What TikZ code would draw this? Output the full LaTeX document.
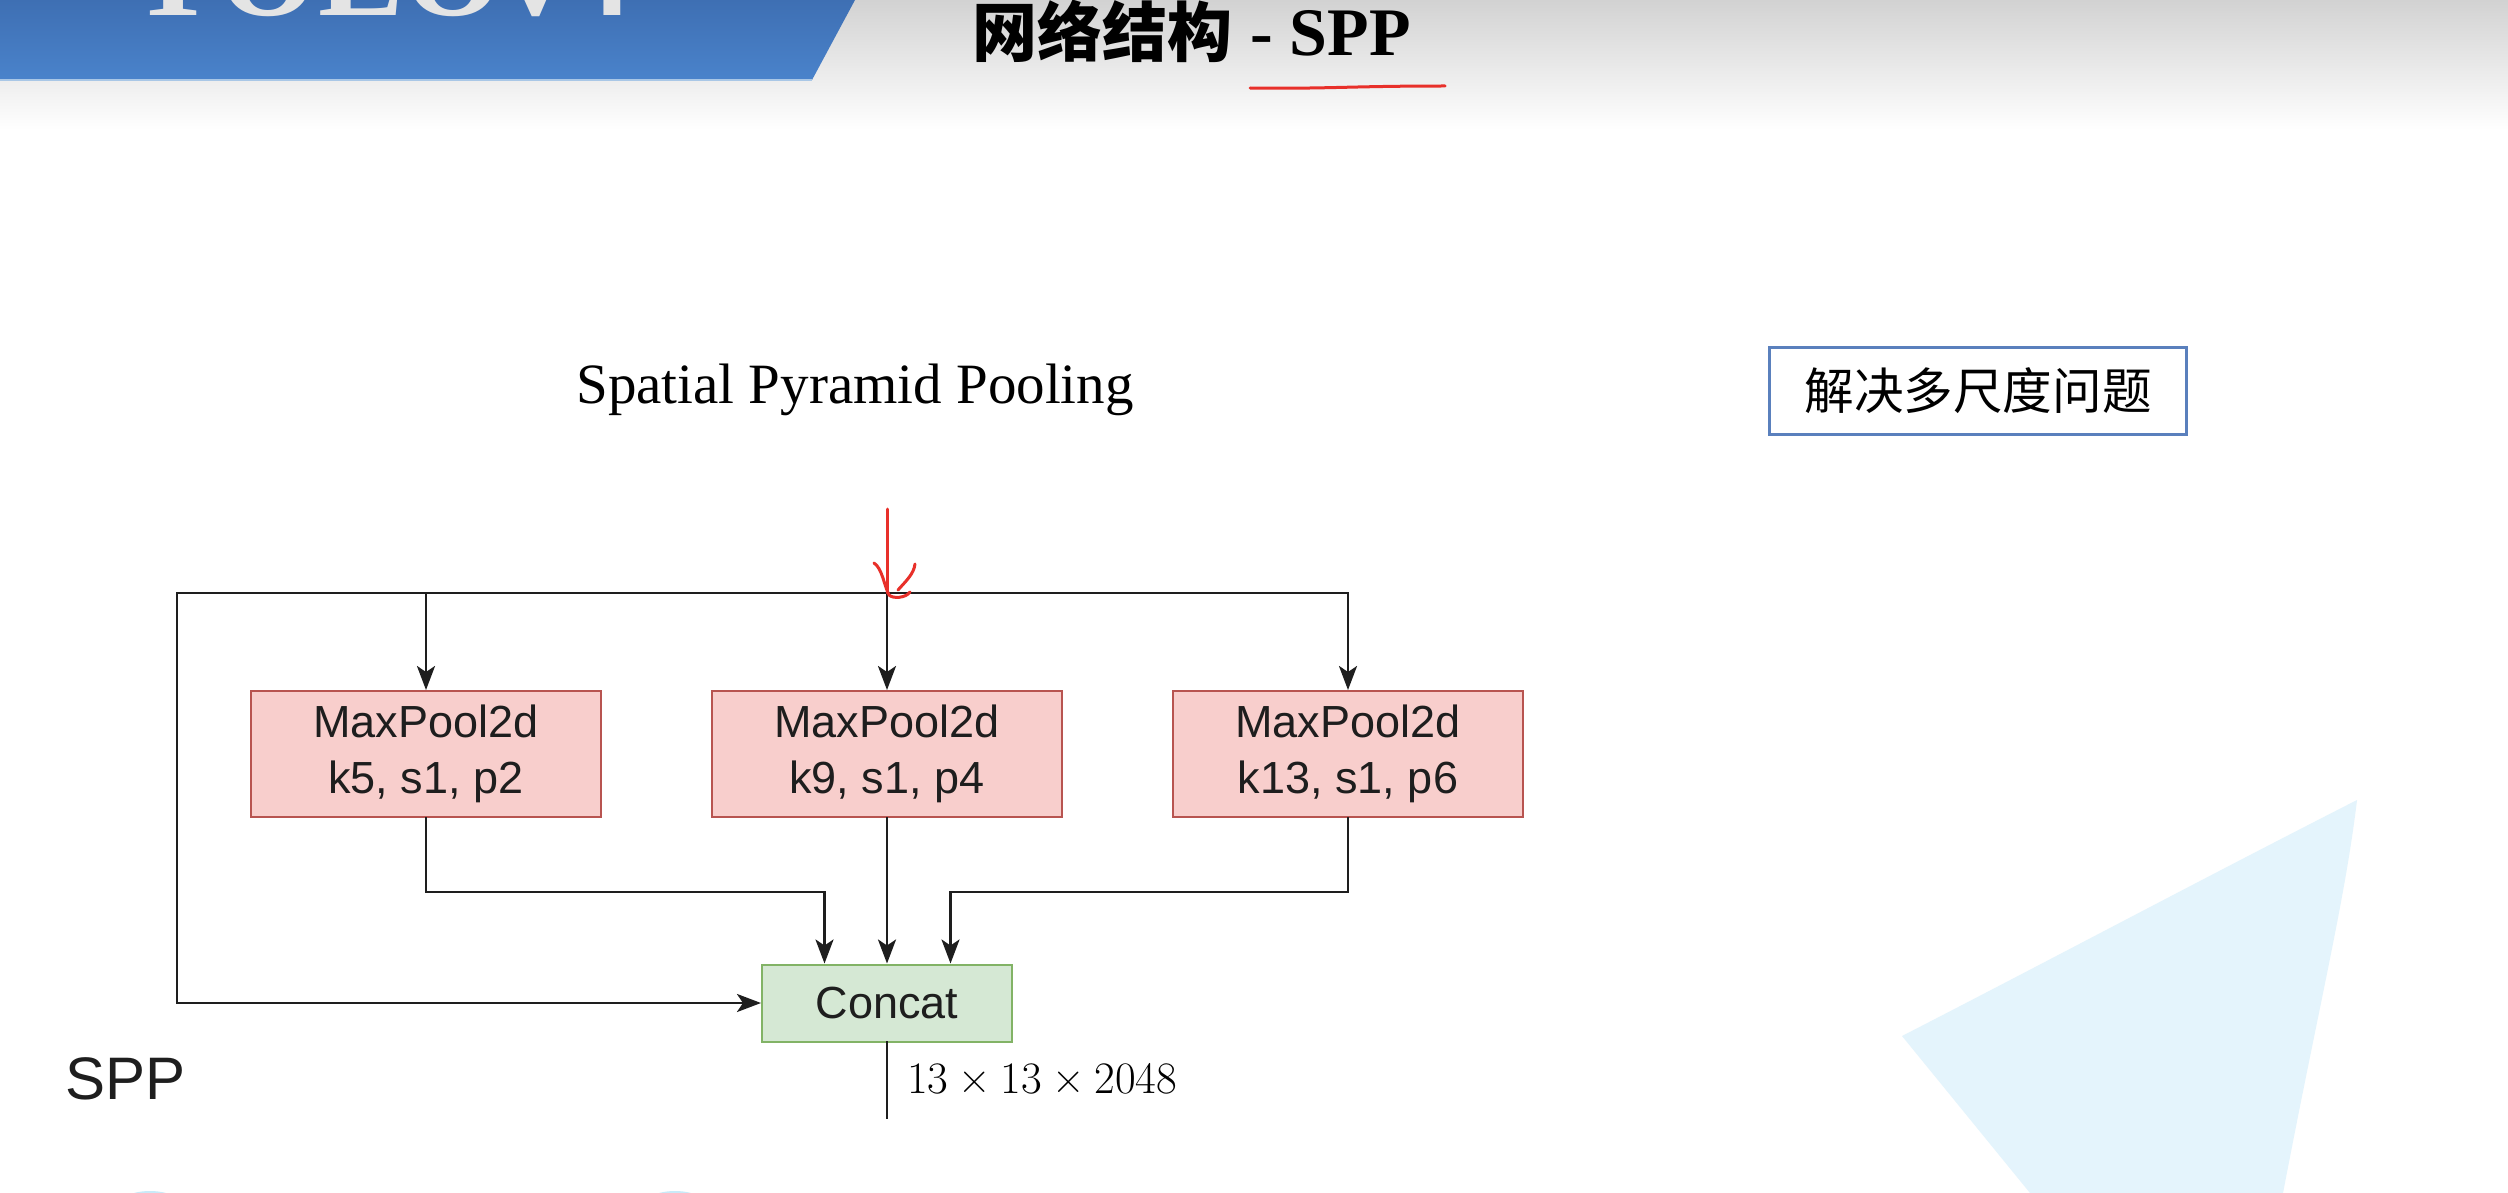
\documentclass[tikz,border=0pt]{standalone}
\usepackage{fontspec}
\setmainfont{Liberation Serif}
\newfontfamily\arialfont{Liberation Sans}
\newfontfamily\cjk{Noto Sans CJK SC}
\newfontfamily\lmfont{Latin Modern Roman}
\usetikzlibrary{arrows.meta,calc}

\definecolor{hdrgray}{HTML}{D2D2D2}
\definecolor{bannertop}{HTML}{3E6FB3}
\definecolor{bannerbot}{HTML}{4A83CB}
\definecolor{bannerline}{HTML}{A9C7E6}
\definecolor{logogray}{HTML}{E4E4E4}
\definecolor{redink}{HTML}{E8302A}
\definecolor{noteblue}{HTML}{5A80BD}
\definecolor{poolfill}{HTML}{F8CECC}
\definecolor{poolline}{HTML}{B85450}
\definecolor{catfill}{HTML}{D5E8D4}
\definecolor{catline}{HTML}{82B366}
\definecolor{decoblue}{HTML}{E4F4FC}
\definecolor{blobblue}{HTML}{C9EAF8}
\definecolor{ink}{HTML}{1E1E1E}

\newcommand{\timesop}{\hspace{0.222em}×\hspace{0.222em}}

\begin{document}
\begin{tikzpicture}[x=1pt,y=-1pt,
  conn/.style={line width=2.8pt, draw=ink, line cap=rect},
  arr/.style={conn, -{Stealth[length=24pt,width=18pt,inset=6pt]}},
  poolbox/.style={draw=poolline, fill=poolfill, line width=2pt,
    minimum width=350pt, minimum height=126pt, inner sep=0pt, align=center,
    text=ink, font=\arialfont\fontsize{45}{56}\selectfont},
  catbox/.style={draw=catline, fill=catfill, line width=2pt,
    minimum width=250pt, minimum height=77pt, inner sep=0pt,
    text=ink, font=\arialfont\fontsize{45}{56}\selectfont},
  notebox/.style={draw=noteblue, line width=3pt, fill=white,
    minimum width=417pt, minimum height=87pt, inner sep=0pt,
    font=\cjk\fontsize{49.6}{50}\selectfont},
  redpen/.style={draw=redink, line width=3pt, line cap=round, line join=round}
]
\useasboundingbox (0,0) rectangle (2508,1193);
\clip (0,0) rectangle (2508,1193);
\fill[white] (0,0) rectangle (2508,1193);

% slide header: grey fade and blue banner
\shade[top color=hdrgray, bottom color=white] (0,0) rectangle (2508,130);
\shade[top color=bannertop, bottom color=bannerbot]
  (0,0) -- (855,0) -- (812,80) -- (0,80) -- cycle;
\draw[bannerline, line width=1.5pt] (0,80) -- (812,80);
\node[anchor=base west, inner sep=0pt, text=logogray,
  font=\bfseries\fontsize{128}{128}\selectfont] (logo) at (126,16) {YOLOv4};

% slide title
\node[anchor=base west, inner sep=0pt,
  font=\cjk\bfseries\fontsize{65}{65}\selectfont] (titlecn) at (972,57) {网络结构};
\node[anchor=base west, inner sep=0pt,
  font=\bfseries\fontsize{68}{68}\selectfont] (titleen) at (1250,56) {- SPP};
\draw[redpen] (1250,88) .. controls (1330,89) and (1350,86) .. (1445,86);

% background decoration
\fill[decoblue] (2357,800) .. controls (2200,880) and (2050,960) .. (1902,1036)
  -- (2030,1193) -- (2283,1193) .. controls (2320,1000) and (2345,900) .. cycle;
\fill[blobblue] (150,1215) ellipse [x radius=40, y radius=24];
\fill[blobblue] (675,1215) ellipse [x radius=40, y radius=24];

% captions
\node[inner sep=0pt, anchor=base, font=\fontsize{57}{57}\selectfont] (caption) at (855,403)
  {Spatial Pyramid Pooling};
\node[notebox] (note) at (1978,391) {解决多尺度问题};
\node[anchor=base west, inner sep=0pt, text=ink,
  font=\arialfont\fontsize{60}{60}\selectfont] (spplabel) at (65,1099) {SPP};

% SPP block
\node[poolbox] (pool1) at (426,754) {MaxPool2d\\k5, s1, p2};
\node[poolbox] (pool2) at (887,754) {MaxPool2d\\k9, s1, p4};
\node[poolbox] (pool3) at (1348,754) {MaxPool2d\\k13, s1, p6};
\node[catbox] (concat) at (887,1003) {Concat};

\coordinate (busL) at (177,593);
\coordinate (busR) at (1348,593);
\coordinate (inp) at (887,562);
\coordinate (out) at (887,1118);
\coordinate (in1) at ($(concat.north west)!0.252!(concat.north east)$);
\coordinate (in3) at ($(concat.north west)!0.752!(concat.north east)$);

\draw[conn] (inp) -- (inp |- busL);
\draw[arr] (busL) -- (busR) -- (pool3.north);
\draw[arr] (busL) |- (concat.west);
\draw[arr] (pool1.north |- busL) -- (pool1.north);
\draw[arr] (pool2.north |- busL) -- (pool2.north);
\draw[arr] (pool1.south) -- ++(0,74) -| (in1);
\draw[arr] (pool2.south) -- (concat.north);
\draw[arr] (pool3.south) -- ++(0,74) -| (in3);
\draw[conn] (concat.south) -- (out);
\node[anchor=west, inner sep=0pt, font=\lmfont\fontsize{45}{45}\selectfont] (shape) at (907,1079)
  {13\timesop 13\timesop 2048};

% hand-drawn input arrow
\draw[redpen] (887,509) -- (887,593);
\draw[redpen] (874,563) .. controls (882,568) and (884,585) .. (889,595)
  .. controls (893,599) and (906,598) .. (910,592);
\draw[redpen] (915,564) .. controls (914,574) and (905,582) .. (898,590);
\end{tikzpicture}
\end{document}
